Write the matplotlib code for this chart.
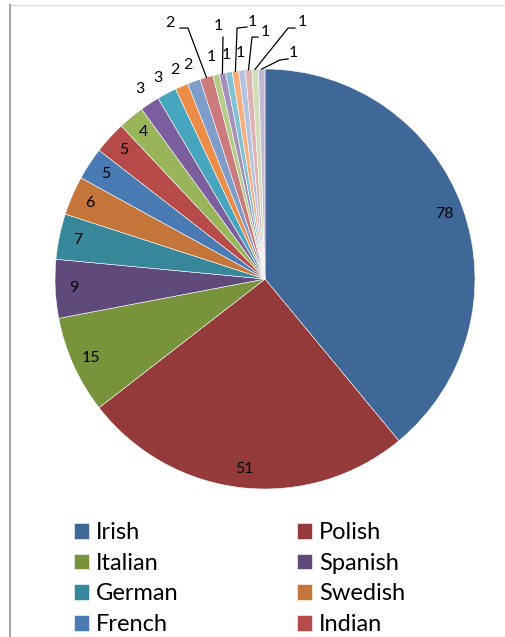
import numpy as np
import matplotlib.pyplot as plt
from matplotlib.lines import Line2D

plt.rcParams['font.family'] = ['Lato', 'DejaVu Sans']

# counts per ancestry, largest first
values = [78, 51, 15, 9, 7, 6, 5, 5, 4, 3, 3, 2, 2, 2, 1, 1, 1, 1, 1, 1, 1, 1]
legend_names = ['Irish', 'Polish', 'Italian', 'Spanish',
                'German', 'Swedish', 'French', 'Indian']

colors = ['#3F6797', '#953A3A', '#77933C', '#604A7B', '#37879B', '#C4753A',
          '#4A7AB4', '#B64B4A', '#98B55A', '#7B5E9E', '#47A5BF', '#EC8C46',
          '#7F9DCB', '#CB7B7B', '#B5CB8A', '#A38FBA', '#80C1D4', '#F8AD7B',
          '#B2C2DF', '#DDB2B0', '#D0DDB8', '#C3B8D4']

# where each value label goes: inside end, just outside, or on a leader
inside = range(0, 9)
outside = [9, 10, 11, 12, 14, 16, 18]
# idx: (elbow, end of leader, text position)
leaders = {
    13: ((-0.367, 1.195), (-0.405, 1.195), (-0.452, 1.219)),
    15: ((-0.200, 1.152), (-0.200, 1.152), (-0.224, 1.205)),
    17: ((-0.133, 1.195), (-0.086, 1.200), (-0.062, 1.224)),
    19: ((-0.062, 1.152), (-0.033, 1.152), (0.000, 1.176)),
    20: ((0.110, 1.195), (0.143, 1.195), (0.176, 1.224)),
    21: ((0.071, 1.043), (0.110, 1.048), (0.133, 1.076)),
}

W, H = 505, 637
fig = plt.figure(figsize=(W / 100, H / 100), dpi=100)
ax = fig.add_axes([55 / W, (H - 489) / H, 420 / W, 420 / H])

wedges, _ = ax.pie(values, colors=colors, startangle=90, counterclock=False,
                   radius=1.0, wedgeprops=dict(edgecolor='white', linewidth=0.4))
ax.set_xlim(-1, 1)
ax.set_ylim(-1, 1)
ax.set_aspect('equal')
ax.axis('off')

lab_size = 11.5
for i, (w, v) in enumerate(zip(wedges, values)):
    mid = np.deg2rad((w.theta1 + w.theta2) / 2)
    cx, cy = np.cos(mid), np.sin(mid)
    if i in inside:
        ax.text(0.91 * cx, 0.91 * cy, str(v), ha='center', va='center', fontsize=lab_size)
    elif i in outside:
        ax.text(1.085 * cx, 1.085 * cy, str(v), ha='center', va='center', fontsize=lab_size)
    elif i in leaders:
        elbow, end, txt = leaders[i]
        ax.plot([cx, elbow[0], end[0]], [cy, elbow[1], end[1]],
                color='black', lw=0.9, clip_on=False)
        ax.text(txt[0], txt[1], str(v), ha='center', va='center', fontsize=lab_size)

# legend reads across rows, matplotlib fills down columns
order = [0, 2, 4, 6, 1, 3, 5, 7]
fig.legend([wedges[k] for k in order], [legend_names[k] for k in order],
           ncol=2, loc='upper left',
           bbox_to_anchor=(74 / W, 1 - 522 / H), frameon=False, fontsize=17,
           handlelength=0.64, handleheight=0.64, handletextpad=0.3,
           labelspacing=0.41, columnspacing=5.0, borderpad=0, borderaxespad=0)

# chart area border
fig.add_artist(Line2D([10 / W, 1], [1 - 5 / H, 1 - 5 / H], color='#D9D9D9', lw=1))
fig.add_artist(Line2D([10 / W, 10 / W], [0, 1 - 5 / H], color='#A6A6A6', lw=1.5))

fig.savefig('out.png', dpi=100)
